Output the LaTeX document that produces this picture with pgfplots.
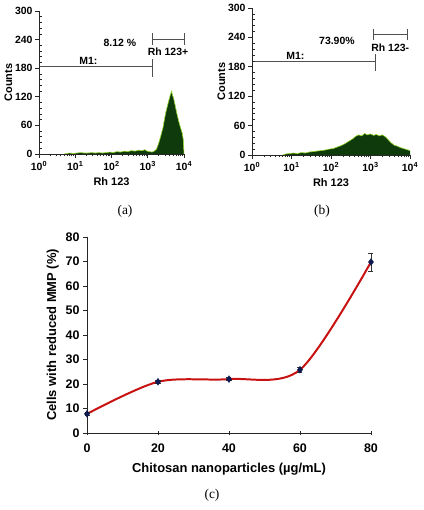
\documentclass[border=0pt]{standalone}
\usepackage{pgfplots}
\usepackage{pgfplotstable}
\pgfplotsset{compat=1.18}
\usepackage{fontspec}
\setmainfont{Liberation Sans}
\newfontfamily\capfont{Liberation Serif}

\definecolor{histfill}{RGB}{14,58,12}
\definecolor{histedge}{RGB}{150,215,40}
\definecolor{gatecol}{RGB}{80,80,80}
\definecolor{curvered}{RGB}{200,18,18}
\definecolor{navy}{RGB}{15,25,80}

% Rh 123 fluorescence histograms (x = log10 of intensity)
\pgfplotstableread{
e     n
0.70  0
0.75  1
0.85  2
0.95  1
1.05  2
1.15  3
1.25  2
1.35  2
1.45  3
1.55  2
1.65  3
1.75  2
1.85  3
1.95  4
2.05  3
2.15  5
2.25  4
2.35  6
2.45  5
2.55  7
2.65  6
2.75  8
2.85  7
2.92  9
2.98  6
3.05  5
3.12  4
3.18  6
3.24  10
3.30  22
3.36  38
3.42  55
3.46  72
3.50  88
3.54  100
3.58  112
3.61  120
3.63  126
3.66  132
3.68  124
3.71  118
3.75  104
3.80  86
3.85  70
3.90  56
3.95  44
3.98  30
4.00  0
}\histA

\pgfplotstableread{
e     n
0.78  0
0.85  2
0.95  3
1.05  4
1.15  3
1.25  5
1.35  4
1.45  6
1.55  7
1.65  8
1.75  9
1.85  10
1.95  12
2.05  13
2.15  16
2.25  19
2.35  23
2.45  28
2.55  33
2.62  38
2.70  41
2.78  39
2.85  44
2.92  41
3.00  43
3.08  40
3.15  42
3.22  39
3.30  41
3.38  37
3.45  31
3.52  25
3.60  20
3.68  18
3.76  15
3.84  13
3.92  11
4.00  9
}\histB

\tikzset{
  gate/.style={gatecol, line width=0.8pt},
  gatetext/.style={font=\bfseries\fontsize{10.5}{12}\selectfont, inner sep=0pt},
}

\pgfplotsset{
  flowaxis/.style={
    scale only axis,
    anchor=south west,
    xmin=0, xmax=4, ymin=0, ymax=300,
    axis x line*=bottom, axis y line*=left,
    axis line style={line width=0.8pt, black!85, -},
    xtick={0,1,2,3,4},
    xticklabels={10\textsuperscript{0},10\textsuperscript{1},10\textsuperscript{2},10\textsuperscript{3},10\textsuperscript{4}},
    minor xtick={0.301,0.477,0.602,0.699,0.778,0.845,0.903,0.954,
                 1.301,1.477,1.602,1.699,1.778,1.845,1.903,1.954,
                 2.301,2.477,2.602,2.699,2.778,2.845,2.903,2.954,
                 3.301,3.477,3.602,3.699,3.778,3.845,3.903,3.954},
    ytick={0,60,...,300},
    minor y tick num=4,
    tick align=outside,
    major tick length=4bp, minor tick length=2.5bp,
    every tick/.style={line width=0.7pt, black!85},
    minor y tick style={xshift=2.5bp},
    ticklabel style={font=\bfseries\fontsize{10.5}{12}\selectfont},
    yticklabel style={xshift=1bp},
    /pgf/number format/assume math mode=true,
    xlabel={Rh 123}, ylabel={Counts},
    label style={font=\bfseries\fontsize{11}{13}\selectfont},
    ylabel style={yshift=-4bp},
    axis on top,
    clip=false,
  },
}

\begin{document}
\begin{tikzpicture}
\useasboundingbox (0,0) rectangle (424bp,510bp);

% (a) control cells
\begin{axis}[flowaxis, width=145bp, height=143bp, at={(39bp,356bp)}]
  \addplot[fill=histfill, draw=none] table[x=e, y=n] {\histA} \closedcycle;
  \addplot[histedge, line width=0.6pt] table[x=e, y=n] {\histA};
  \draw[gate] (axis cs:0,184) -- (axis cs:3.13,184);
  \draw[gate] (axis cs:3.13,162) -- (axis cs:3.13,200);
  \draw[gate] (axis cs:3.12,241) -- (axis cs:4,241);
  \draw[gate] (axis cs:3.12,229) -- (axis cs:3.12,253);
  \draw[gate] (axis cs:4,229) -- (axis cs:4,253);
  \node[gatetext] at (axis cs:1.36,196) {M1:};
  \node[gatetext] at (axis cs:2.23,233) {8.12 \%};
  \node[gatetext] at (axis cs:3.56,214) {Rh 123+};
\end{axis}

% (b) treated cells
\begin{axis}[flowaxis, width=158bp, height=147bp, at={(252bp,355bp)}]
  \addplot[fill=histfill, draw=none] table[x=e, y=n] {\histB} \closedcycle;
  \addplot[histedge, line width=0.6pt] table[x=e, y=n] {\histB};
  \draw[gate] (axis cs:0,192) -- (axis cs:3.12,192);
  \draw[gate] (axis cs:3.12,172) -- (axis cs:3.12,206);
  \draw[gate] (axis cs:3.07,246) -- (axis cs:3.93,246);
  \draw[gate] (axis cs:3.07,234) -- (axis cs:3.07,258);
  \draw[gate] (axis cs:3.93,234) -- (axis cs:3.93,258);
  \node[gatetext] at (axis cs:1.1,203) {M1:};
  \node[gatetext] at (axis cs:2.15,233) {73.90\%};
  \node[gatetext] at (axis cs:3.5,218) {Rh 123-};
\end{axis}

% (c) dose response
\begin{axis}[
  scale only axis, width=284bp, height=196bp,
  at={(87bp,77bp)}, anchor=south west,
  xmin=0, xmax=80, ymin=0, ymax=80,
  axis x line*=bottom, axis y line*=left,
  axis line style={line width=0.8pt, black!85, -},
  xtick={0,20,...,80}, ytick={0,10,...,80},
  tick align=outside, major tick length=4bp,
  x tick style={yshift=2bp},
  every tick/.style={line width=0.7pt, black!85},
  ticklabel style={font=\bfseries\fontsize{12.5}{14}\selectfont},
  xticklabel style={yshift=-3bp},
  /pgf/number format/assume math mode=true,
  xlabel={Chitosan nanoparticles (µg/mL)},
  ylabel={Cells with reduced MMP (\%)},
  label style={font=\bfseries\fontsize{13}{15}\selectfont},
  xlabel style={yshift=-4bp},
  clip=false,
]
  \addplot[curvered, line width=2pt, smooth]
    coordinates {(0,7.8) (20,20.9) (40,22) (60,25.8) (80,69.8)};
  \addplot[only marks, mark=diamond*, mark size=3.4bp, navy,
    error bars/.cd, y dir=both, y explicit,
    error bar style={line width=0.7pt, black!80},
    error mark options={rotate=90, mark size=2.5bp, line width=0.7pt, black!80}]
    coordinates {(0,7.8) +- (0,0.6) (20,20.9) +- (0,0.7) (40,22) +- (0,0.7)
                 (60,25.8) +- (0,0.9) (80,69.8) +- (0,3.7)};
\end{axis}

\node[font=\capfont\fontsize{13.5}{15}\selectfont] at (125bp,299bp) {(a)};
\node[font=\capfont\fontsize{13.5}{15}\selectfont] at (322bp,299bp) {(b)};
\node[font=\capfont\fontsize{13.5}{15}\selectfont] at (212bp,15bp) {(c)};
\end{tikzpicture}
\end{document}
